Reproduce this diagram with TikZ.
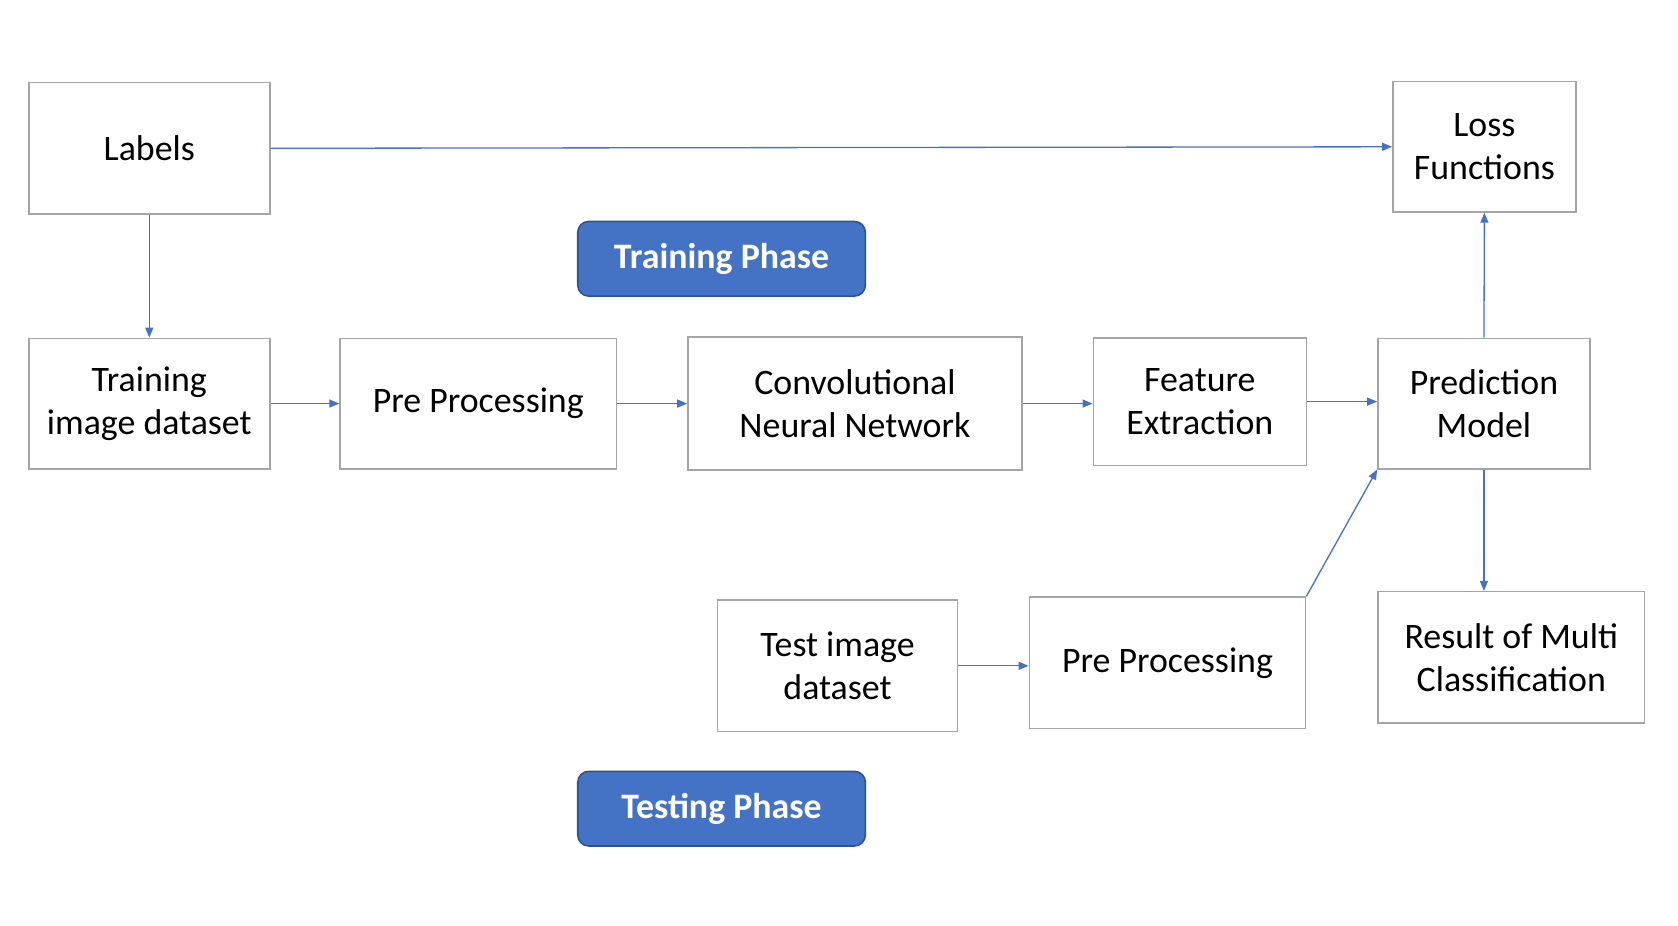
\documentclass[tikz,border=0pt]{standalone}
\usepackage{fontspec}
\setmainfont{Carlito}
\usepackage{tikz}
\usetikzlibrary{arrows.meta}
\definecolor{lineblue}{HTML}{4472C4}
\definecolor{darkblue}{HTML}{2F528F}
\definecolor{boxgray}{HTML}{A5A5A5}

\begin{document}
\begin{tikzpicture}[
	box/.style={draw=boxgray,line width=0.9pt,align=center,inner sep=0pt,
		font=\fontsize{20.5}{24.6}\selectfont},
	phase/.style={draw=darkblue,fill=lineblue,line width=0.9pt,rounded corners=0.22cm,
		text=white,inner sep=0pt,minimum width=5.78cm,minimum height=1.5cm,
		font=\fontsize{20.5}{24.6}\selectfont\bfseries},
	arr/.style={draw=lineblue,line width=0.75pt,-{Triangle[length=0.2cm,width=0.16cm]}}]
	\useasboundingbox (0,0) rectangle (33.72,-18.59);
	% top row
	\node[box,minimum width=4.84cm,minimum height=2.64cm] (L) at (3.00,-2.98) {Labels};
	\node[box,minimum width=3.68cm,minimum height=2.62cm] (LF) at (29.83,-2.95) {Loss\\Functions};
	\node[phase] (TrP) at (14.50,-5.20) {Training Phase};
	% training row
	\node[box,minimum width=4.84cm,minimum height=2.62cm] (T) at (3.00,-8.11) {Training\\image dataset};
	\node[box,minimum width=5.55cm,minimum height=2.62cm] (P) at (9.61,-8.11) {Pre Processing};
	\node[box,minimum width=6.71cm,minimum height=2.67cm] (C) at (17.18,-8.11) {Convolutional\\Neural Network};
	\node[box,minimum width=4.28cm,minimum height=2.56cm] (F) at (24.11,-8.07) {Feature\\Extraction};
	\node[box,minimum width=4.26cm,minimum height=2.62cm] (M) at (29.82,-8.11) {Prediction\\Model};
	% testing row
	\node[box,minimum width=4.82cm,minimum height=2.64cm] (TI) at (16.83,-13.38) {Test image\\dataset};
	\node[box,minimum width=5.55cm,minimum height=2.64cm] (PT) at (23.46,-13.32) {Pre Processing};
	\node[box,minimum width=5.35cm,minimum height=2.64cm] (R) at (30.37,-13.21) {Result of Multi\\Classification};
	\node[phase] (TsP) at (14.50,-16.25) {Testing Phase};
	% connectors
	\draw[arr] (L.east) -- (LF.west);
	\draw[arr] (L.south) -- (T.north);
	\draw[arr] (T.east) -- (P.west);
	\draw[arr] (P.east) -- (C.west);
	\draw[arr] (C.east) -- (C.east -| F.west);
	\draw[arr] (F.east) -- (F.east -| M.west);
	\draw[arr] (M.north) -- (LF.south);
	\draw[arr] (M.south) -- (M.south |- R.north);
	\draw[arr] (TI.east) -- (TI.east -| PT.west);
	\draw[arr] (PT.north east) -- (M.south west);
\end{tikzpicture}
\end{document}
